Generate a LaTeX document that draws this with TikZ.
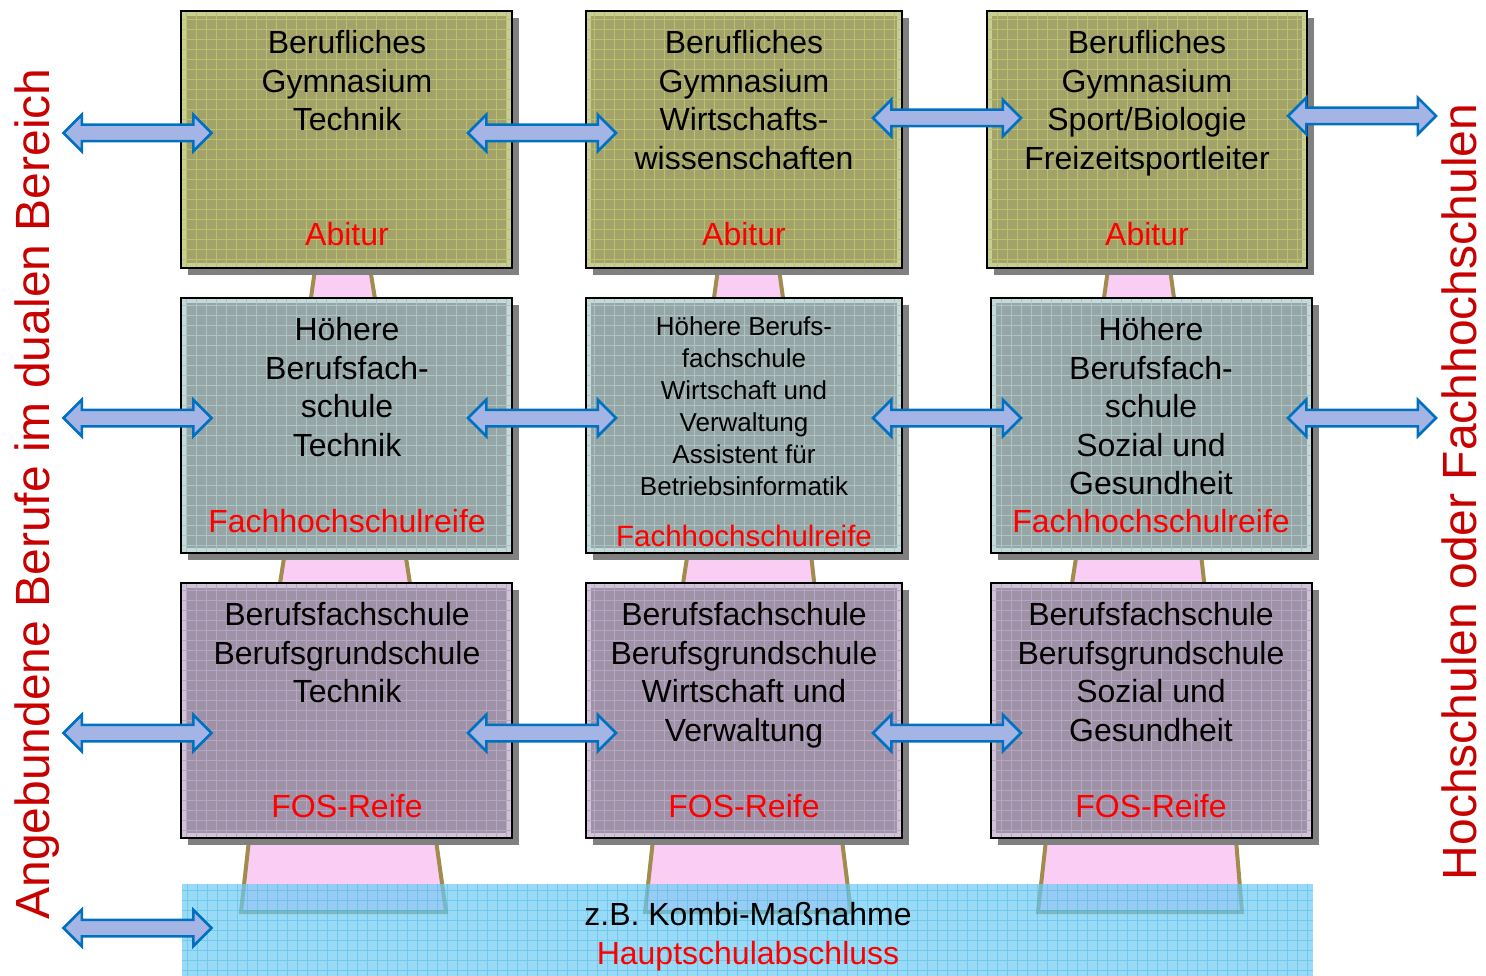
\documentclass[tikz,border=0pt]{standalone}
\usepackage{fontspec}
\setmainfont{Liberation Sans}
\usetikzlibrary{shapes.arrows,shadows,positioning}

\definecolor{olivebox}{RGB}{162,162,106}
\definecolor{olivelight}{RGB}{200,206,146}
\definecolor{olivegrid}{RGB}{184,194,108}
\definecolor{tealbox}{RGB}{150,166,166}
\definecolor{teallight}{RGB}{196,218,218}
\definecolor{tealgrid}{RGB}{172,196,196}
\definecolor{mauvebox}{RGB}{160,146,166}
\definecolor{mauvelight}{RGB}{208,194,216}
\definecolor{mauvegrid}{RGB}{182,166,198}
\definecolor{bandblue}{RGB}{110,204,244}
\definecolor{bandgrid}{RGB}{40,168,226}
\definecolor{trapfill}{RGB}{250,205,245}
\definecolor{trapline}{RGB}{160,140,76}
\definecolor{arrowline}{RGB}{0,112,192}
\definecolor{arrowfill}{RGB}{164,180,228}
\definecolor{shadowgray}{RGB}{128,128,128}
\definecolor{sidered}{RGB}{200,0,0}
\definecolor{exitred}{RGB}{255,0,0}

\tikzset{
  schoolbox/.style n args={3}{draw=black, line width=2pt, fill=#2, inner sep=0pt,
    drop shadow={shadow xshift=7pt, shadow yshift=-7pt, fill=shadowgray, opacity=1},
    path picture={\fill[#1] ([shift={(5pt,-5pt)}]path picture bounding box.north west)
      rectangle ([shift={(-5pt,5pt)}]path picture bounding box.south east);
      \draw[#3, line width=1pt, step=10pt] (path picture bounding box.south west)
      grid (path picture bounding box.north east);}},
  trap/.style={draw=trapline, line width=4pt, fill=trapfill},
  dualarrow/.style={double arrow, draw=arrowline, fill=arrowfill, line width=2.5pt,
    inner xsep=0pt, inner ysep=7pt, minimum height=148pt, double arrow head extend=10pt},
  boxtext/.style={anchor=north, align=center, inner sep=0pt, font=\fontsize{32}{38.5}\selectfont},
  smalltext/.style={anchor=north, align=center, inner sep=0pt, font=\fontsize{26}{32}\selectfont},
  exittext/.style={anchor=base, inner sep=0pt, text=exitred, font=\fontsize{32}{38.5}\selectfont},
  sidetext/.style={rotate=90, inner sep=0pt, text=sidered, font=\fontsize{48}{58}\selectfont}
}

\begin{document}
\begin{tikzpicture}[x=1pt,y=-1pt]
\useasboundingbox (0,0) rectangle (1486,976);

%Trapezoids: row 1 to row 2
\draw[trap] (316,262) -- (310,305) -- (376,305) -- (369,262) -- cycle;
\draw[trap] (719,262) -- (713,305) -- (784,305) -- (778,262) -- cycle;
\draw[trap] (1109,262) -- (1103,305) -- (1175,305) -- (1169,262) -- cycle;
%Trapezoids: row 2 to row 3
\draw[trap] (286,545) -- (279,590) -- (411,590) -- (404,545) -- cycle;
\draw[trap] (689,545) -- (682,590) -- (815,590) -- (810,545) -- cycle;
\draw[trap] (1078,545) -- (1071,590) -- (1205,590) -- (1200,545) -- cycle;
%Trapezoids: row 3 to band
\draw[trap] (249,840) -- (241,912) -- (446,912) -- (436,840) -- cycle;
\draw[trap] (653,840) -- (645,912) -- (851,912) -- (842,840) -- cycle;
\draw[trap] (1046,840) -- (1038,912) -- (1242,912) -- (1236,840) -- cycle;

%Band
\node[fill=bandblue, fill opacity=0.7, minimum width=1131pt, minimum height=92pt, inner sep=0pt,
  path picture={\draw[bandgrid, draw opacity=0.35, line width=1pt, step=10pt]
    (path picture bounding box.south west) grid (path picture bounding box.north east);}] (kombi) at (747.5,930) {};

%Row 1
\node[schoolbox={olivebox}{olivelight}{olivegrid}, minimum width=331pt, minimum height=257pt] (gymtech) at (346.5,139.5) {};
\node[schoolbox={olivebox}{olivelight}{olivegrid}, minimum width=316pt, minimum height=257pt] (gymwirt) at (744,139.5) {};
\node[schoolbox={olivebox}{olivelight}{olivegrid}, minimum width=320pt, minimum height=257pt] (gymsport) at (1147,139.5) {};
%Row 2
\node[schoolbox={tealbox}{teallight}{tealgrid}, minimum width=331pt, minimum height=255pt] (hbftech) at (346.5,425.5) {};
\node[schoolbox={tealbox}{teallight}{tealgrid}, minimum width=316pt, minimum height=255pt] (hbfwirt) at (744,425.5) {};
\node[schoolbox={tealbox}{teallight}{tealgrid}, minimum width=321pt, minimum height=255pt] (hbfsoz) at (1151.5,425.5) {};
%Row 3
\node[schoolbox={mauvebox}{mauvelight}{mauvegrid}, minimum width=331pt, minimum height=255pt] (bfstech) at (346.5,710.5) {};
\node[schoolbox={mauvebox}{mauvelight}{mauvegrid}, minimum width=316pt, minimum height=255pt] (bfswirt) at (744,710.5) {};
\node[schoolbox={mauvebox}{mauvelight}{mauvegrid}, minimum width=321pt, minimum height=255pt] (bfssoz) at (1151.5,710.5) {};

%Double arrows
\node[dualarrow] (dual1) at (137.5,133) {};
\node[dualarrow] (tw1) at (542,133) {};
\node[dualarrow] (ws1) at (947,118) {};
\node[dualarrow] (hs1) at (1362,116) {};
\node[dualarrow] (dual2) at (137.5,418) {};
\node[dualarrow] (tw2) at (542,418) {};
\node[dualarrow] (ws2) at (947,418) {};
\node[dualarrow] (hs2) at (1362,418) {};
\node[dualarrow] (dual3) at (137.5,733) {};
\node[dualarrow] (tw3) at (542,733) {};
\node[dualarrow] (ws3) at (947,733) {};
\node[dualarrow] (dual4) at (137.5,928) {};

% Text Node
\node[boxtext] (gymtechtxt) at (347,26.5) {\strut Berufliches\\Gymnasium\\Technik};
\node[boxtext] (gymwirttxt) at (744,26.5) {\strut Berufliches\\Gymnasium\\Wirtschafts-\\wissenschaften};
\node[boxtext] (gymsporttxt) at (1147,26.5) {\strut Berufliches\\Gymnasium\\Sport/Biologie\\Freizeitsportleiter};
\node[exittext] at (347,245.5) {Abitur};
\node[exittext] at (744,245.5) {Abitur};
\node[exittext] at (1147,245.5) {Abitur};
% Text Node
\node[boxtext] (hbftechtxt) at (347,313.5) {\strut Höhere\\Berufsfach-\\schule\\Technik};
\node[smalltext] (hbfwirttxt) at (744,313) {\strut Höhere Berufs-\\fachschule\\Wirtschaft und\\Verwaltung\\Assistent für\\Betriebsinformatik};
\node[boxtext] (hbfsoztxt) at (1151,313.5) {\strut Höhere\\Berufsfach-\\schule\\Sozial und\\Gesundheit};
\node[exittext] at (347,532.5) {Fachhochschulreife};
\node[exittext, font=\fontsize{29.5}{35}\selectfont] at (744,546.5) {Fachhochschulreife};
\node[exittext] at (1151,532.5) {Fachhochschulreife};
% Text Node
\node[boxtext] (bfstechtxt) at (347,598.5) {\strut Berufsfachschule\\Berufsgrundschule\\Technik};
\node[boxtext] (bfswirttxt) at (744,598.5) {\strut Berufsfachschule\\Berufsgrundschule\\Wirtschaft und\\Verwaltung};
\node[boxtext] (bfssoztxt) at (1151,598.5) {\strut Berufsfachschule\\Berufsgrundschule\\Sozial und\\Gesundheit};
\node[exittext] at (347,817.5) {FOS-Reife};
\node[exittext] at (744,817.5) {FOS-Reife};
\node[exittext] at (1151,817.5) {FOS-Reife};
% Text Node
\node[exittext, text=black] (kombitxt) at (748,925.5) {z.B. Kombi-Maßnahme};
\node[exittext] (hsatxt) at (748,964.5) {Hauptschulabschluss};
% Text Node
\node[sidetext] (dualtxt) at (37,494) {Angebundene Berufe im dualen Bereich};
\node[sidetext] (hochtxt) at (1459,492) {Hochschulen oder Fachhochschulen};

\end{tikzpicture}
\end{document}
